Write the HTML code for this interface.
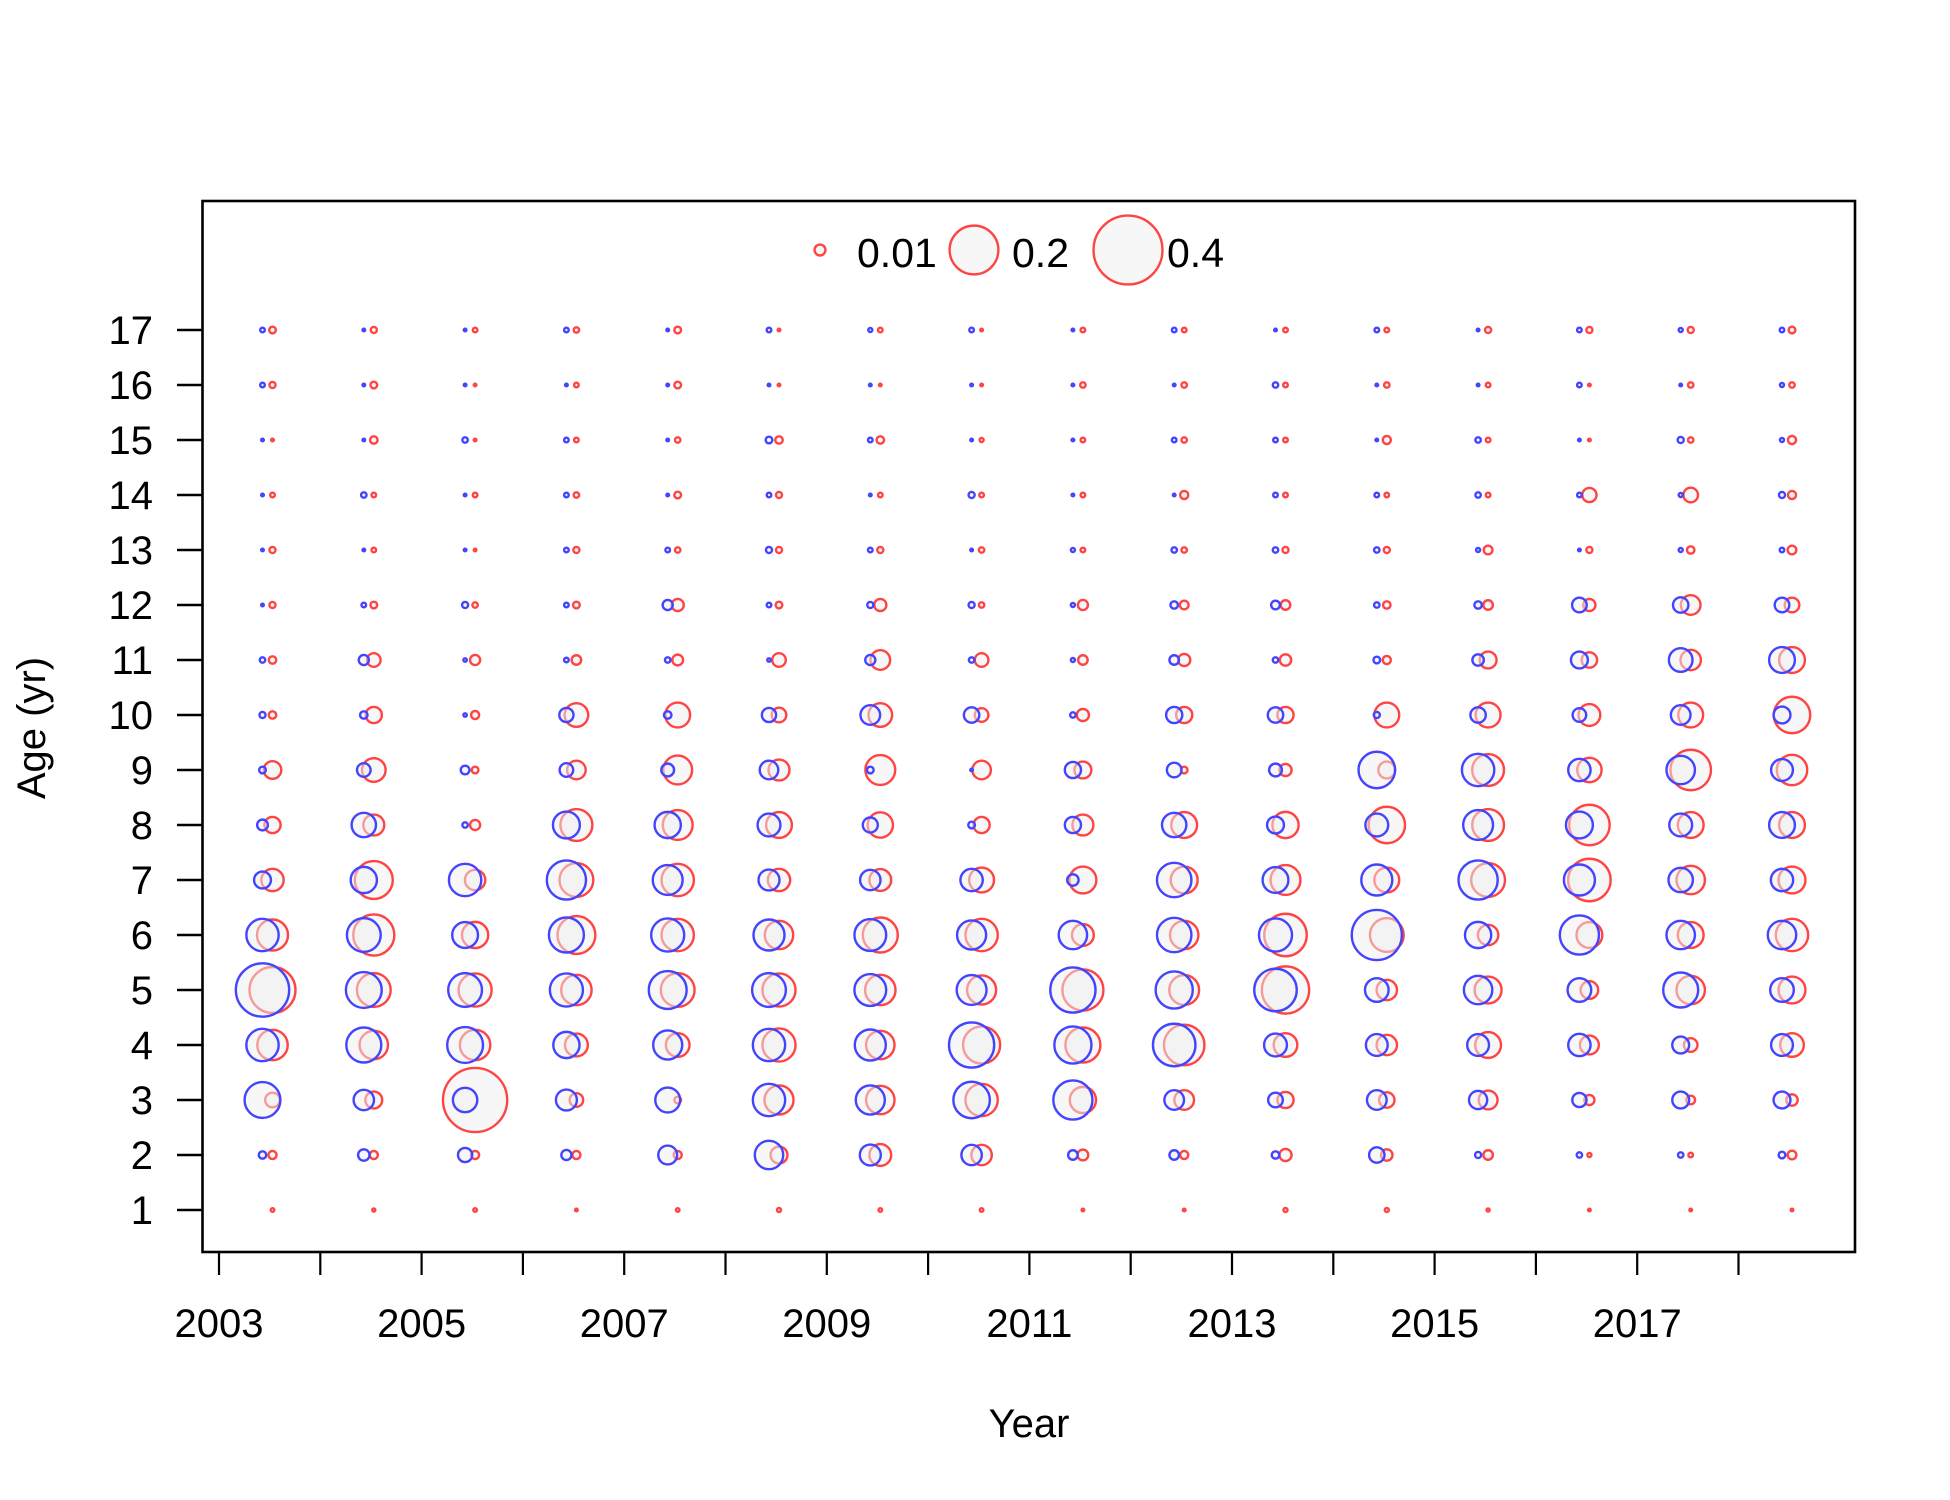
<!DOCTYPE html>
<html><head><meta charset="utf-8"><style>
html,body{margin:0;padding:0;background:#fff;}
svg{display:block;}
text{font-family:"Liberation Sans",Arial,sans-serif;fill:#000;}
</style></head><body>
<svg id="chart" width="1950" height="1500" viewBox="0 0 1950 1500" xmlns="http://www.w3.org/2000/svg">
<rect x="0" y="0" width="1950" height="1500" fill="#fff"/>
<g id="bubbles"></g>
<rect x="202.5" y="201" width="1652.5" height="1051" fill="none" stroke="#000" stroke-width="2.6"/>
<g id="yaxis"></g>
<g id="xaxis"></g>
<g id="legend"></g>
<text x="1029" y="1437" font-size="40" text-anchor="middle">Year</text>
<text x="45" y="728" font-size="40" text-anchor="middle" transform="rotate(-90 45 728)">Age (yr)</text>
</svg>
<script>
const years = [2003,2004,2005,2006,2007,2008,2009,2010,2011,2012,2013,2014,2015,2016,2017,2018];
const ages = [1,2,3,4,5,6,7,8,9,10,11,12,13,14,15,16,17];
const yTickLabels = ["1","2","3","4","5","6","7","8","9","10","11","12","13","14","15","16","17"];
const xTickYears = [2003,2004,2005,2006,2007,2008,2009,2010,2011,2012,2013,2014,2015,2016,2017,2018];
const xTickLabels = ["2003","","2005","","2007","","2009","","2011","","2013","","2015","","2017",""];
const legendValues = [0.01,0.2,0.4];
const legendLabels = ["0.01","0.2","0.4"];
// observed proportions (blue), one row per year, ages 1..17
const obsProp = [
[0,.0047,.108,.088,.239,.088,.024,.0097,.0038,.0031,.0025,.0006,.0006,.0006,.0006,.0018,.0018],
[0,.011,.035,.103,.108,.096,.058,.050,.0155,.0047,.0086,.0018,.0006,.0025,.0006,.0006,.0006],
[0,.017,.050,.108,.096,.056,.088,.0025,.0064,.001,.001,.0031,.0006,.0006,.0025,.0006,.0006],
[0,.0086,.037,.058,.092,.103,.129,.061,.0155,.017,.0018,.0018,.0018,.0018,.0018,.0006,.0018],
[0,.030,.052,.071,.121,.092,.075,.058,.0137,.0047,.0025,.0086,.0018,.0006,.0006,.0006,.0006],
[0,.068,.088,.088,.096,.081,.037,.044,.029,.017,.001,.0018,.0031,.0018,.0038,.0006,.0018],
[0,.037,.071,.081,.085,.085,.035,.019,.0038,.0325,.0086,.0031,.0018,.0006,.0018,.0006,.0014],
[0,.035,.112,.172,.075,.071,.042,.0038,.0006,.020,.0025,.0031,.0006,.0031,.0006,.0006,.0018],
[0,.0076,.129,.116,.172,.068,.011,.022,.022,.0025,.0014,.0014,.0014,.0006,.0006,.0006,.0006],
[0,.0076,.0325,.152,.116,.100,.100,.050,.018,.022,.0076,.0047,.0025,.0006,.0018,.0006,.0018],
[0,.0047,.018,.044,.152,.092,.056,.024,.0137,.020,.0025,.0064,.0025,.0018,.0018,.0025,.0006],
[0,.020,.0325,.040,.047,.211,.081,.044,.112,.0031,.0038,.0025,.0025,.0018,.0006,.0006,.0018],
[0,.0031,.028,.040,.068,.058,.129,.075,.088,.020,.011,.0047,.0014,.0025,.0025,.0006,.0006],
[0,.0025,.017,.042,.047,.129,.081,.061,.042,.0155,.024,.018,.0006,.0018,.0006,.0018,.0018],
[0,.0025,.024,.024,.103,.068,.050,.044,.068,.0325,.047,.020,.0014,.0014,.0031,.0006,.0014],
[0,.0038,.024,.040,.047,.068,.042,.056,.040,.024,.056,.018,.0018,.0031,.0014,.0014,.0018]
];
// expected proportions (red), one row per year, ages 1..17
const expProp = [
[.0011,.0055,.018,.078,.178,.081,.042,.022,.026,.0047,.0047,.0031,.0031,.0018,.0006,.0031,.0038],
[.0008,.0055,.024,.068,.096,.142,.121,.037,.047,.022,.0155,.0038,.0018,.0018,.0047,.0038,.0031],
[.0011,.0055,.347,.078,.092,.058,.035,.0086,.0038,.0055,.0086,.0025,.0006,.0018,.0006,.0006,.0018],
[.0006,.0055,.0155,.044,.078,.121,.096,.086,.029,.047,.0076,.0038,.0031,.0025,.0018,.0018,.0025],
[.0011,.0055,.0038,.047,.096,.088,.088,.075,.070,.052,.0097,.0124,.0025,.0038,.0025,.0038,.0038],
[.0014,.024,.071,.092,.092,.068,.042,.056,.037,.018,.0155,.0038,.0031,.0031,.0047,.0006,.0006],
[.0011,.040,.068,.068,.078,.103,.040,.054,.075,.047,.0325,.0124,.0031,.0018,.0047,.0006,.0018],
[.0011,.035,.088,.116,.071,.088,.052,.022,.029,.0155,.0155,.0025,.0025,.0018,.0014,.0006,.0006],
[.0006,.0097,.058,.103,.142,.040,.061,.037,.024,.0124,.0076,.0086,.0018,.0018,.0018,.0025,.0018],
[.0006,.0055,.0325,.138,.075,.068,.061,.056,.0038,.022,.0124,.0064,.0025,.0055,.0025,.0025,.0018],
[.0014,.0124,.022,.047,.188,.152,.075,.058,.0124,.022,.011,.0076,.0031,.0018,.0018,.0018,.0018],
[.0014,.011,.020,.035,.035,.096,.052,.112,.024,.052,.0055,.0047,.0031,.0018,.0055,.0025,.0018],
[.0008,.0076,.030,.056,.061,.035,.096,.085,.085,.052,.024,.0076,.0064,.0018,.0018,.0018,.0031],
[.0006,.0014,.0086,.030,.026,.056,.152,.138,.050,.040,.020,.0124,.0031,.017,.0006,.0006,.0031],
[.0006,.0018,.0064,.0155,.068,.056,.068,.056,.138,.052,.035,.0325,.0047,.018,.0025,.0025,.0031],
[.0006,.0064,.011,.047,.061,.088,.061,.056,.078,.112,.056,.018,.0064,.0055,.0055,.0025,.0038]
];

const NS = "http://www.w3.org/2000/svg";
const X0 = 219, XSTEP = 101.3;
const Y1 = 1210, YSTEP = 55;
const RSCALE = 54.5;
const BLUE = "rgb(68,68,255)", RED = "rgb(255,68,68)";
function xScale(year){ return X0 + (year - years[0]) * XSTEP; }
function yScale(age){ return Y1 - (age - 1) * YSTEP; }
function rScale(v){ return RSCALE * Math.sqrt(Math.max(v,0)); }

const gB = document.getElementById('bubbles');
years.forEach((yr, i) => {
  ages.forEach((age, j) => {
    const pairs = [[expProp[i][j], RED, 53.5, 'expected'], [obsProp[i][j], BLUE, 43.5, 'observed']];
    pairs.forEach(p => {
      if (p[0] <= 0) return;
      const c = document.createElementNS(NS, 'circle');
      c.setAttribute('cx', xScale(yr) + p[2]);
      c.setAttribute('cy', yScale(age));
      c.setAttribute('r', Math.max(rScale(p[0]), 1.2));
      c.setAttribute('fill', 'rgba(240,240,240,0.5)');
      c.setAttribute('stroke', p[1]);
      c.setAttribute('stroke-width', '2.4');
      
      
      gB.appendChild(c);
    });
  });
});

const gY = document.getElementById('yaxis');
ages.forEach((age, j) => {
  const y = yScale(age);
  const t = document.createElementNS(NS, 'line');
  t.setAttribute('x1', 177); t.setAttribute('x2', 202.5);
  t.setAttribute('y1', y); t.setAttribute('y2', y);
  t.setAttribute('stroke', '#000'); t.setAttribute('stroke-width', '2.4');
  
  
  gY.appendChild(t);
  const l = document.createElementNS(NS, 'text');
  l.setAttribute('x', 153); l.setAttribute('y', y + 14);
  l.setAttribute('font-size', '40'); l.setAttribute('text-anchor', 'end');
  l.textContent = yTickLabels[j];
  
  
  gY.appendChild(l);
});

const gX = document.getElementById('xaxis');
xTickYears.forEach((yr, k) => {
  const x = xScale(yr);
  const t = document.createElementNS(NS, 'line');
  t.setAttribute('x1', x); t.setAttribute('x2', x);
  t.setAttribute('y1', 1252); t.setAttribute('y2', 1275);
  t.setAttribute('stroke', '#000'); t.setAttribute('stroke-width', '2.2');
  
  
  gX.appendChild(t);
  if (xTickLabels[k]) {
    const l = document.createElementNS(NS, 'text');
    l.setAttribute('x', x); l.setAttribute('y', 1337);
    l.setAttribute('font-size', '40'); l.setAttribute('text-anchor', 'middle');
    l.textContent = xTickLabels[k];
    
    
    gX.appendChild(l);
  }
});

const gL = document.getElementById('legend');
const legCx = [820, 974, 1128], legTx = [857, 1012, 1167];
legendValues.forEach((v, k) => {
  const c = document.createElementNS(NS, 'circle');
  c.setAttribute('cx', legCx[k]); c.setAttribute('cy', 250);
  c.setAttribute('r', rScale(v));
  c.setAttribute('fill', 'rgba(240,240,240,0.5)');
  c.setAttribute('stroke', RED); c.setAttribute('stroke-width', '2.4');
  
  
  gL.appendChild(c);
  const t = document.createElementNS(NS, 'text');
  t.setAttribute('x', legTx[k]); t.setAttribute('y', 267);
  t.setAttribute('font-size', '41');
  t.textContent = legendLabels[k];
  
  
  gL.appendChild(t);
});
</script>
</body></html>
